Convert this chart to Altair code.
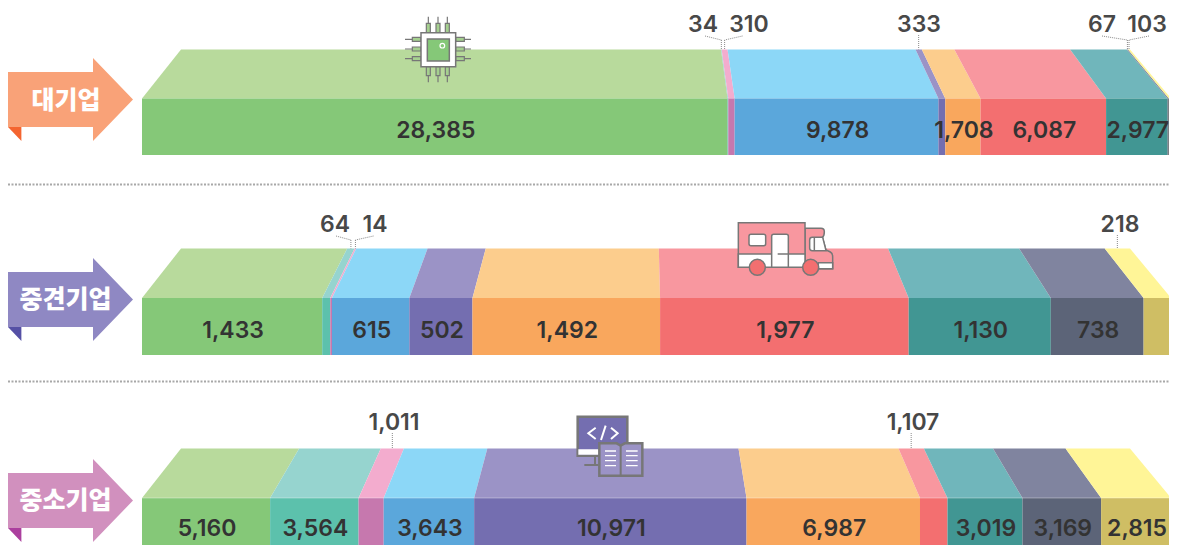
import altair as alt
import pandas as pd

# ---------- data ----------
rows = ["대기업", "중견기업", "중소기업"]
front_colors = ["#85C878", "#5CC1AC", "#C678AE", "#5BA7DB", "#746EB0",
                "#F9A75D", "#F36F70", "#419693", "#5C6478", "#CFBE64"]
top_colors = ["#B8DA9C", "#96D4CF", "#F3ACCE", "#8CD7F7", "#9B93C6",
              "#FCCD8D", "#F8979F", "#70B6BB", "#80849F", "#FFF597"]
large = [28385, 34, 310, 9878, 333, 1708, 6087, 2977, 67, 103]
middle = [1433, 64, 14, 615, 502, 1492, 1977, 1130, 738, 218]
small = [5160, 3564, 1011, 3643, 10971, 6987, 1107, 3019, 3169, 2815]
series = [large, middle, small]
shown_inside = [[1, 0, 0, 1, 0, 1, 1, 1, 0, 0],
                [1, 0, 0, 1, 1, 1, 1, 1, 1, 0],
                [1, 1, 0, 1, 1, 1, 0, 1, 1, 1]]

# ---------- layout ----------
X0, XW = 142.0, 1029.0          # front face, px
TX0, TXW = 181.0, 949.0         # top face, px
ROW_Y = [(49.5, 98.5, 155), (248.5, 298, 355), (448.5, 498, 553)]
NUM_Y = [130.5, 330.5, 528.5]
OUT_Y = [24.5, 224.5, 422.5]
ARROW_DY = [0, 200, 401]
ARROW_COL = [("#F9A278", "#F46530"), ("#8F88C3", "#5550A5"), ("#D190BE", "#AB3F9E")]
OUT = [{1: (703, 705), 2: (749, 742.5), 4: (919, None), 8: (1102, 1102), 9: (1147, 1149)},
       {1: (335, 336), 2: (375, 373.5), 9: (1120, None)},
       {2: (394, None), 6: (913, None)}]


def sx(px):
    return (px - X0) / XW


def top_share(s):
    return sx(TX0 + TXW * s)


xs = alt.Scale(domain=[sx(8), sx(1177)], range=[0, 1169], nice=False, zero=False)
ys = alt.Scale(domain=[545, 8], nice=False, zero=False)


def X(f="x"):
    return alt.X(f"{f}:Q", scale=xs, axis=None, stack=False)


def Y(f="y"):
    return alt.Y(f"{f}:Q", scale=ys, axis=None)


front, top, inside, outside, leaders = [], [], [], [], []
for r, vals in enumerate(series):
    total = sum(vals)
    yt, yf, yb = ROW_Y[r]
    c = 0
    for i, v in enumerate(vals):
        a, b = c / total, (c + v) / total
        c += v
        front.append(dict(x=a, x2=b, y=yf, y2=yb, fill=front_colors[i]))
        sid = f"{r}-{i}"
        top.append(dict(id=sid, y=yt, x=top_share(a), x2=top_share(b), fill=top_colors[i]))
        top.append(dict(id=sid, y=yf, x=a, x2=b, fill=top_colors[i]))
        if shown_inside[r][i]:
            inside.append(dict(x=(a + b) / 2 + 1 / XW, y=NUM_Y[r], t=f"{v:,}"))
        if i in OUT[r]:
            cx, start = OUT[r][i]
            outside.append(dict(x=sx(cx), y=OUT_Y[r], t=f"{v:,}"))
            anchor = top_share((a + b) / 2)
            ly = OUT_Y[r] - 1.5
            if start is None:
                leaders.append(dict(x=anchor, x2=anchor, y=ly + 12, y2=yt))
            else:
                leaders.append(dict(x=sx(start), x2=anchor, y=ly + 13, y2=ly + 17))
                leaders.append(dict(x=anchor, x2=anchor, y=ly + 17, y2=yt))

one = pd.DataFrame({"a": [0]})


def part(path, ox, oy, k, fill=None, stroke=None, sw=1.5):
    kw = dict(shape=path, size=(2 * k) ** 2, opacity=1)
    if fill:
        kw.update(filled=True, fill=fill)
    else:
        kw.update(filled=False)
    if stroke:
        kw.update(stroke=stroke, strokeWidth=sw)
    else:
        kw.update(strokeWidth=0)
    return alt.Chart(one).mark_point(**kw).encode(x=alt.value(ox - 8), y=alt.value(oy - 8))


layers = []

layers.append(
    alt.Chart(pd.DataFrame(top)).mark_area(orient="horizontal", interpolate="linear").encode(
        x=X(), x2="x2:Q", y=Y(), detail="id:N", color=alt.Color("fill:N", scale=None)
    )
)
layers.append(
    alt.Chart(pd.DataFrame(front)).mark_rect().encode(
        x=X(), x2="x2:Q", y=Y(), y2="y2:Q", color=alt.Color("fill:N", scale=None)
    )
)
layers.append(
    alt.Chart(pd.DataFrame({"x": [0], "x2": [1], "y": [498]})).mark_rule(
        color="#ffffff", opacity=0.35, strokeWidth=1
    ).encode(x=X(), x2="x2:Q", y=Y())
)
layers.append(
    alt.Chart(pd.DataFrame({"x": [sx(8)], "x2": [sx(1177)], "y": [184.5]})).mark_rule(
        color="#A8A8A8", strokeWidth=2, strokeDash=[2, 1.5]
    ).encode(x=X(), x2="x2:Q", y=Y())
)
layers.append(
    alt.Chart(pd.DataFrame({"x": [sx(8)], "x2": [sx(1177)], "y": [381.5]})).mark_rule(
        color="#A8A8A8", strokeWidth=2, strokeDash=[2, 1.5]
    ).encode(x=X(), x2="x2:Q", y=Y())
)
layers.append(
    alt.Chart(pd.DataFrame(leaders)).mark_rule(
        color="#8A8A8A", strokeWidth=1, strokeDash=[1, 1]
    ).encode(x=X(), x2="x2:Q", y=Y(), y2="y2:Q")
)

for r, dy in enumerate(ARROW_DY):
    body, corner = ARROW_COL[r]
    layers.append(part("M8 72H93V58L133 99.5L93 141V127H8Z", 0, dy, 1, fill=body))
    layers.append(part("M8 127H21.4V141Z", 0, dy, 1, fill=corner))

cap = pd.DataFrame({"t": rows, "x": [sx(66), sx(65.5), sx(65.5)], "y": [101, 300, 501]})
layers.append(
    alt.Chart(cap).mark_text(
        font="Noto Sans CJK KR", fontWeight=900, fontSize=25, color="#FFFFFF",
        align="center", baseline="middle"
    ).encode(x=X(), y=Y(), text="t:N")
)

layers.append(
    alt.Chart(pd.DataFrame(inside)).mark_text(
        font="Inter", fontWeight=600, fontSize=23, color="#333333",
        align="center", baseline="middle"
    ).encode(x=X(), y=Y(), text="t:N")
)
layers.append(
    alt.Chart(pd.DataFrame(outside)).mark_text(
        font="Inter", fontWeight=600, fontSize=23, color="#484848",
        align="center", baseline="middle"
    ).encode(x=X(), y=Y(), text="t:N")
)

GR = "#777777"
K = 1 / 3
cx0, cy0 = 395, 10
pins, wires = "", ""
for c in (100, 129, 157):
    pins += f"M{c-6} 40H{c+6}V68H{c-6}Z M{c-6} 170H{c+6}V197H{c-6}Z "
    wires += f"M{c} 20V40 M{c} 197V217 "
for c in (88, 117, 146):
    pins += f"M52 {c-6}H78V{c+6}H52Z M182 {c-6}H208V{c+6}H182Z "
    wires += f"M30 {c}H52 M208 {c}H228 "
layers.append(part(pins, cx0, cy0, K, fill="#A5D08F", stroke=GR, sw=1.2))
layers.append(part(wires, cx0, cy0, K, stroke=GR, sw=1.2))
layers.append(part("M78 68H182V170H78Z", cx0, cy0, K, fill="#FFFFFF", stroke=GR, sw=1.5))
layers.append(part("M97 87H163V153H97Z", cx0, cy0, K, fill="#85C878", stroke=GR, sw=1.5))
layers.append(part("M135 107A7 7 0 1 1 149 107A7 7 0 1 1 135 107Z", cx0, cy0, K, stroke="#FFFFFF", sw=1.2))

tx0, ty0 = 725, 210
layers.append(part("M240 55H288Q298 55 298 65Q298 78 292 82L303 120L316 126Q323 130 323 140V176H240Z",
                   tx0, ty0, K, fill="#F8979F", stroke=GR))
layers.append(part("M262 82H293L303 122H262Q254 122 254 115V90Q254 82 262 82Z", tx0, ty0, K, fill="#FFFFFF", stroke=GR))
layers.append(part("M268 82V122", tx0, ty0, K, stroke=GR))
layers.append(part("M280 158H323V176H280Z", tx0, ty0, K, fill="#FFFFFF", stroke=GR))
layers.append(part("M40 38H240V172H40Z", tx0, ty0, K, fill="#F8979F", stroke=GR))
layers.append(part("M40 132H240V172H40Z", tx0, ty0, K, fill="#FFFFFF", stroke=GR))
layers.append(part("M78 73H116Q122 73 122 79V101Q122 107 116 107H78Q72 107 72 101V79Q72 73 78 73Z",
                   tx0, ty0, K, fill="#FFFFFF", stroke=GR))
layers.append(part("M146 73H184Q190 73 190 79V172H140V79Q140 73 146 73Z", tx0, ty0, K, fill="#FFFFFF", stroke=GR))
layers.append(part("M158 132H190", tx0, ty0, K, stroke=GR))
for c in (97, 257):
    layers.append(part(f"M{c-24} 172A24 24 0 1 1 {c+24} 172A24 24 0 1 1 {c-24} 172Z",
                       tx0, ty0, K, fill="#F36F70", stroke=GR))

ix0, iy0 = 565, 405
layers.append(part("M90 152V180M58 180H100", ix0, iy0, K, stroke=GR, sw=2))
layers.append(part("M38 35H187V152H38Z", ix0, iy0, K, fill="#746EB0", stroke=GR, sw=2.5))
layers.append(part("M40 133H185V149H40Z", ix0, iy0, K, fill="#FFFFFF"))
layers.append(part("M92 68L70 85L92 102M122 62L108 105M138 68L158 85L138 102", ix0, iy0, K, stroke="#FFFFFF", sw=2))
layers.append(part("M103 115H155L167 122L179 115H232V212H103Z", ix0, iy0, K, fill="#9B93C6", stroke=GR, sw=2.5))
layers.append(part("M167 122V212", ix0, iy0, K, stroke=GR, sw=2))
layers.append(part("M120 138H153M120 152H153M120 167H153M120 182H153M183 138H218M183 152H218M183 167H218M183 182H218",
                   ix0, iy0, K, stroke="#FFFFFF", sw=1.3))

chart = alt.layer(*layers).properties(
    width=1161, height=537, padding=0,
    autosize=alt.AutoSizeParams(type="none"), background="#FFFFFF"
).configure_view(stroke=None)

chart.save("out.html", embed_options={"renderer": "svg", "actions": False})
